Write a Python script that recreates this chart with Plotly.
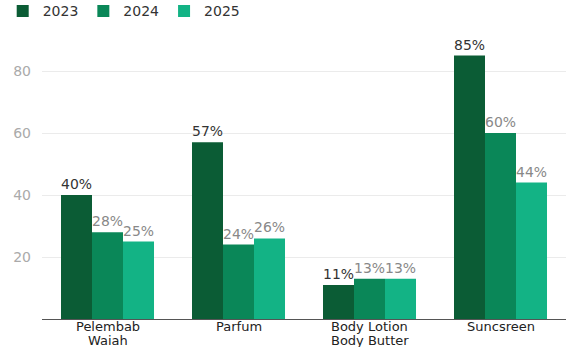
import plotly.graph_objects as go

categories = ["Pelembab Waiah", "Parfum", "Body Lotion Body Butter", "Suncsreen"]
label_line1 = ["Pelembab", "Parfum", "Body Lotion", "Suncsreen"]
label_line2 = ["Waiah", "", "Body Butter", ""]
years = ["2023", "2024", "2025"]
v2023 = [40, 57, 11, 85]
v2024 = [28, 24, 13, 60]
v2025 = [25, 26, 13, 44]
colors = ["#0b5c35", "#0a8758", "#13b385"]
label_colors = ["#333333", "#888888", "#888888"]
FONT = "DejaVu Sans"

fig = go.Figure()
for name, vals, c, lc in zip(years, [v2023, v2024, v2025], colors, label_colors):
    fig.add_trace(go.Bar(
        x=categories, y=vals, name=name, marker_color=c, marker_line_width=0,
        text=[f"{v}%" for v in vals], textposition="outside",
        textfont=dict(color=lc, size=14, family=FONT), cliponaxis=False,
    ))

for cat, l1, l2 in zip(categories, label_line1, label_line2):
    for txt, shift in ((l1, -7), (l2, -21)):
        if txt:
            fig.add_annotation(x=cat, xref="x", y=0, yref="paper", text=txt,
                               showarrow=False, yanchor="middle", yshift=shift,
                               font=dict(size=13, color="#222", family=FONT))

fig.update_layout(
    width=566, height=347, barmode="group", bargap=0.29, bargroupgap=0,
    margin=dict(l=42, r=0, t=40, b=28, autoexpand=False),
    plot_bgcolor="white", paper_bgcolor="white",
    font=dict(family=FONT, size=14, color="#333"),
    legend=dict(orientation="h", x=-0.075, y=1.16, xanchor="left", yanchor="top",
                font=dict(size=14, color="#333", family=FONT), itemwidth=30,
                traceorder="normal"),
)
fig.update_yaxes(range=[0, 90], tickvals=[20, 40, 60, 80], showgrid=True,
                 gridcolor="#ebebeb", tickfont=dict(color="#aaaaaa", size=14, family=FONT),
                 zeroline=False, showline=False, ticklabelstandoff=10, automargin=False)
fig.update_xaxes(showline=True, linecolor="#555", linewidth=1, showticklabels=False,
                 ticks="", automargin=False)
fig.write_html("out.html")
